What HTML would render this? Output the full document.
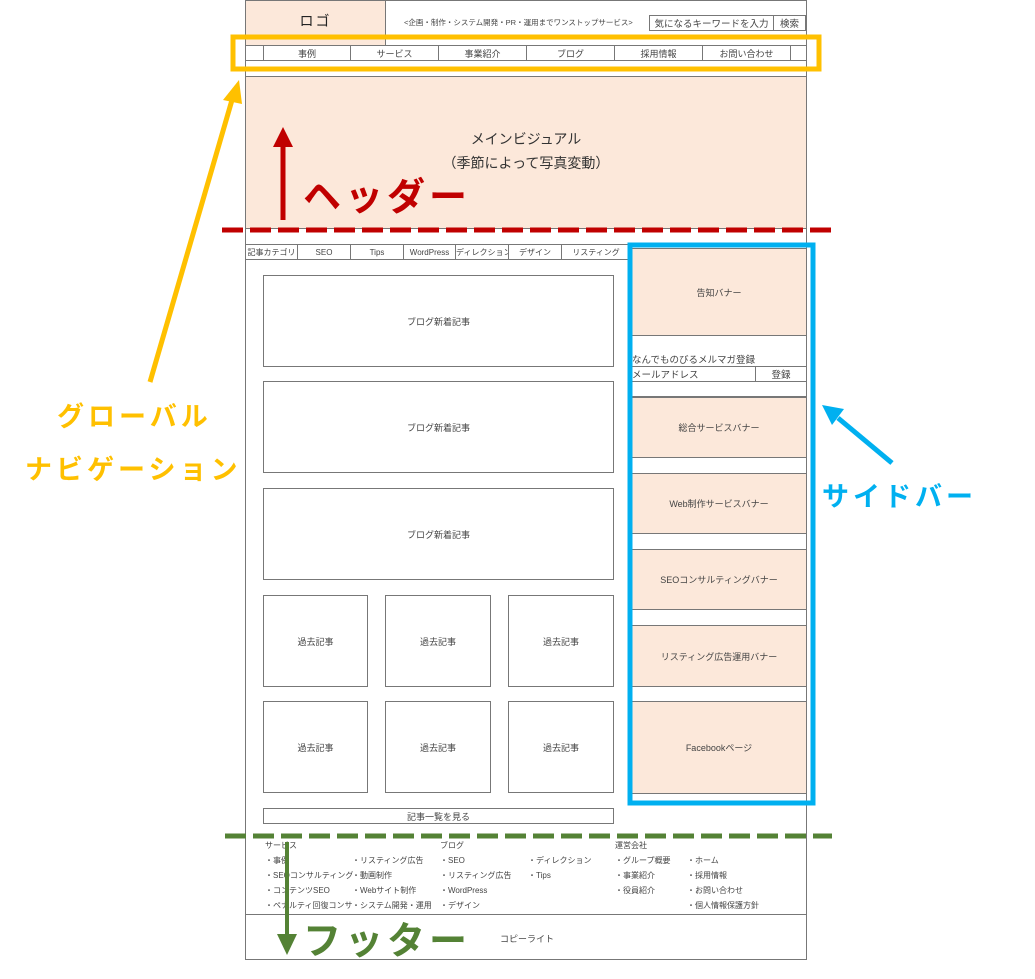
<!DOCTYPE html>
<html><head><meta charset="utf-8"><style>
*{margin:0;padding:0;box-sizing:border-box}
body{width:1035px;height:979px;background:#fff;position:relative;overflow:hidden;font-family:"Liberation Sans","Noto Sans CJK JP",sans-serif;color:#444}
.a{position:absolute}
.b{position:absolute;border:1px solid #777;display:flex;align-items:center;justify-content:center;font-size:9px;color:#444;white-space:nowrap;overflow:hidden}
.p{background:#fce8da}
.t{position:absolute;font-size:8px;color:#444;white-space:nowrap}
.big{position:absolute;font-weight:bold;white-space:nowrap;letter-spacing:4px}
</style></head><body>
<div class="a" style="left:245px;top:0;width:562px;height:960px;border:1px solid #777"></div>
<div class="b p" style="left:245px;top:0;width:141px;height:46px;font-size:14px;color:#222;letter-spacing:2px;padding-bottom:4px">ロゴ</div>
<div class="t" style="left:404px;top:17px;font-size:7.5px">&lt;企画・制作・システム開発・PR・運用までワンストップサービス&gt;</div>
<div class="b" style="left:649px;top:15px;width:125px;height:16px;font-size:9.5px">気になるキーワードを入力</div>
<div class="b" style="left:773px;top:15px;width:33px;height:16px;font-size:9.5px">検索</div>
<div class="b" style="left:245px;top:45px;width:19px;height:16px"></div>
<div class="b" style="left:263px;top:45px;width:88px;height:16px">事例</div>
<div class="b" style="left:350px;top:45px;width:89px;height:16px">サービス</div>
<div class="b" style="left:438px;top:45px;width:89px;height:16px">事業紹介</div>
<div class="b" style="left:526px;top:45px;width:89px;height:16px">ブログ</div>
<div class="b" style="left:614px;top:45px;width:89px;height:16px">採用情報</div>
<div class="b" style="left:702px;top:45px;width:89px;height:16px">お問い合わせ</div>
<div class="b" style="left:790px;top:45px;width:17px;height:16px"></div>
<div class="a p" style="left:245px;top:76px;width:562px;height:153px;border:1px solid #777"></div>
<div class="t" style="left:245px;top:127px;width:562px;text-align:center;font-size:14px;color:#333;line-height:24px">メインビジュアル<br>（季節によって写真変動）</div>
<div class="b" style="left:245px;top:244px;width:53px;height:16px;font-size:8px">記事カテゴリ</div>
<div class="b" style="left:297px;top:244px;width:54px;height:16px;font-size:8px">SEO</div>
<div class="b" style="left:350px;top:244px;width:54px;height:16px;font-size:8px">Tips</div>
<div class="b" style="left:403px;top:244px;width:53px;height:16px;font-size:8px">WordPress</div>
<div class="b" style="left:455px;top:244px;width:54px;height:16px;font-size:8px;justify-content:flex-start">ディレクション</div>
<div class="b" style="left:508px;top:244px;width:54px;height:16px;font-size:8px">デザイン</div>
<div class="b" style="left:561px;top:244px;width:70px;height:16px;font-size:8px">リスティング</div>
<div class="b" style="left:263px;top:275px;width:351px;height:92px">ブログ新着記事</div>
<div class="b" style="left:263px;top:381px;width:351px;height:92px">ブログ新着記事</div>
<div class="b" style="left:263px;top:488px;width:351px;height:92px">ブログ新着記事</div>
<div class="b" style="left:263px;top:595px;width:105px;height:92px">過去記事</div>
<div class="b" style="left:385px;top:595px;width:106px;height:92px">過去記事</div>
<div class="b" style="left:508px;top:595px;width:106px;height:92px">過去記事</div>
<div class="b" style="left:263px;top:701px;width:105px;height:92px">過去記事</div>
<div class="b" style="left:385px;top:701px;width:106px;height:92px">過去記事</div>
<div class="b" style="left:508px;top:701px;width:106px;height:92px">過去記事</div>
<div class="b" style="left:263px;top:808px;width:351px;height:16px">記事一覧を見る</div>
<div class="b p" style="left:631px;top:248px;width:176px;height:88px">告知バナー</div>
<div class="t" style="left:632px;top:352px;font-size:9.5px">なんでものびるメルマガ登録</div>
<div class="b" style="left:631px;top:366px;width:125px;height:16px;font-size:9.5px;justify-content:flex-start">メールアドレス</div>
<div class="b" style="left:755px;top:366px;width:52px;height:16px;font-size:9.5px">登録</div>
<div class="b" style="left:631px;top:381px;width:176px;height:16px"></div>
<div class="b p" style="left:631px;top:397px;width:176px;height:61px">総合サービスバナー</div>
<div class="b p" style="left:631px;top:473px;width:176px;height:61px">Web制作サービスバナー</div>
<div class="b p" style="left:631px;top:549px;width:176px;height:61px">SEOコンサルティングバナー</div>
<div class="b p" style="left:631px;top:625px;width:176px;height:62px">リスティング広告運用バナー</div>
<div class="b p" style="left:631px;top:701px;width:176px;height:93px">Facebookページ</div>
<div class="a" style="left:245px;top:914px;width:562px;height:1px;background:#777"></div>
<div class="t" style="left:265px;top:840px">サービス</div>
<div class="t" style="left:440px;top:840px">ブログ</div>
<div class="t" style="left:615px;top:840px">運営会社</div>
<div class="t" style="left:265px;top:853px;line-height:15px">・事例<br>・SEOコンサルティング<br>・コンテンツSEO<br>・ペナルティ回復コンサ</div>
<div class="t" style="left:352px;top:853px;line-height:15px">・リスティング広告<br>・動画制作<br>・Webサイト制作<br>・システム開発・運用</div>
<div class="t" style="left:440px;top:853px;line-height:15px">・SEO<br>・リスティング広告<br>・WordPress<br>・デザイン</div>
<div class="t" style="left:528px;top:853px;line-height:15px">・ディレクション<br>・Tips</div>
<div class="t" style="left:615px;top:853px;line-height:15px">・グループ概要<br>・事業紹介<br>・役員紹介</div>
<div class="t" style="left:687px;top:853px;line-height:15px">・ホーム<br>・採用情報<br>・お問い合わせ<br>・個人情報保護方針</div>
<div class="t" style="left:500px;top:932px;font-size:9px">コピーライト</div>
<svg class="a" style="left:0;top:0" width="1035" height="979">
<rect x="233" y="37" width="586" height="32" fill="none" stroke="#ffc000" stroke-width="5"/>
<line x1="222" y1="230" x2="832" y2="230" stroke="#c00000" stroke-width="5" stroke-dasharray="21,7"/>
<line x1="283" y1="220" x2="283" y2="145" stroke="#c00000" stroke-width="5"/>
<polygon points="283,127 273,147 293,147" fill="#c00000"/>
<line x1="225" y1="836" x2="832" y2="836" stroke="#548235" stroke-width="5" stroke-dasharray="21,7"/>
<line x1="287" y1="842" x2="287" y2="935" stroke="#548235" stroke-width="4"/>
<polygon points="287,955 277,934 297,934" fill="#548235"/>
<rect x="630" y="245" width="183" height="558" fill="none" stroke="#00b0f0" stroke-width="5"/>
<line x1="150" y1="382" x2="232" y2="100" stroke="#ffc000" stroke-width="5"/>
<polygon points="239,80 223,100 242,104" fill="#ffc000"/>
<line x1="892" y1="463" x2="838" y2="418" stroke="#00b0f0" stroke-width="5"/>
<polygon points="822,405 844,409 832,425" fill="#00b0f0"/>
</svg>
<div class="big" style="left:303px;top:166px;font-size:38px;color:#c00000">ヘッダー</div>
<div class="big" style="left:303px;top:910px;font-size:38px;color:#548235">フッター</div>
<div class="big" style="left:57px;top:395px;font-size:27px;color:#ffc000">グローバル</div>
<div class="big" style="left:25px;top:448px;font-size:27px;color:#ffc000">ナビゲーション</div>
<div class="big" style="left:822px;top:475px;font-size:27px;color:#00b0f0">サイドバー</div>
</body></html>
